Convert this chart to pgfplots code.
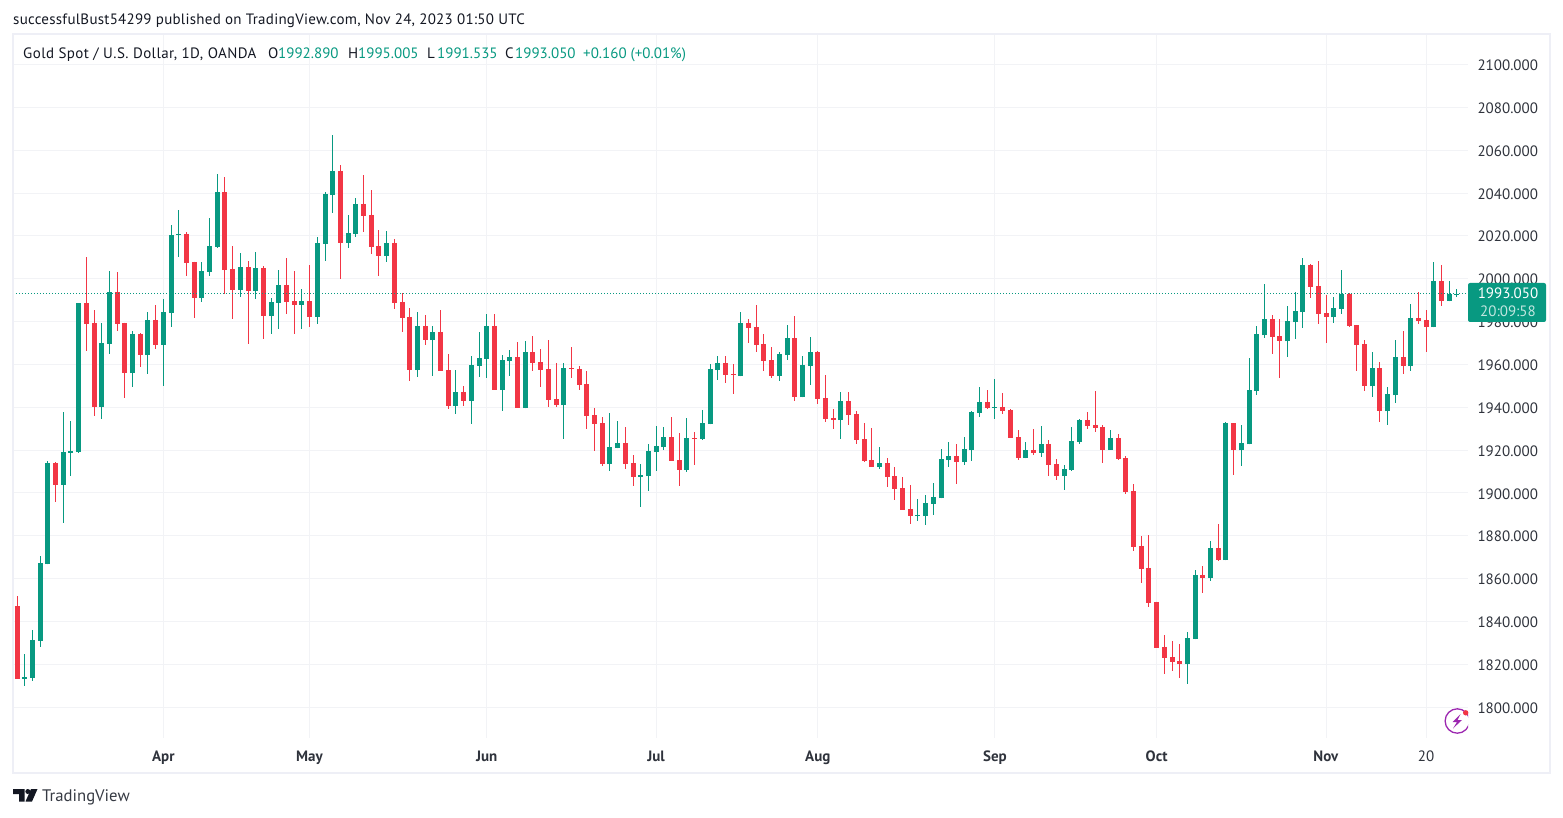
\documentclass[border=0pt]{standalone}
\usepackage{fontspec}
\setmainfont{PT Sans}
\usepackage{pgfplots}
\usepackage{pgfplotstable}
\pgfplotsset{compat=1.18}

\definecolor{up}{HTML}{089981}
\definecolor{down}{HTML}{F23645}
\definecolor{gridc}{HTML}{F2F3F6}
\definecolor{txt}{HTML}{131722}
\definecolor{frame}{HTML}{EEEFF6}
\definecolor{bolt}{HTML}{9C27B0}

% x = trading day index, o h l c = price
\pgfplotstableread{
x o h l c
1 1813.3 1824.8 1810.0 1814.1
2 1813.8 1836.0 1812.4 1831.4
3 1831.1 1870.6 1828.2 1867.3
4 1866.8 1914.9 1866.8 1914.0
6 1903.9 1937.8 1886.1 1919.1
7 1918.8 1933.6 1908.1 1919.6
8 1919.1 1988.7 1918.8 1988.7
11 1940.3 1979.4 1934.6 1970.0
12 1969.6 2003.7 1964.9 1993.9
15 1956.0 1975.6 1949.5 1974.2
17 1964.4 1984.5 1955.6 1980.8
19 1969.1 1990.6 1950.0 1984.5
20 1984.0 2025.1 1977.5 2020.5
21 2020.5 2032.1 2010.2 2020.9
24 1991.0 2007.9 1989.2 2003.7
25 2003.2 2028.4 2001.3 2015.3
26 2014.9 2048.9 2014.4 2040.5
29 1994.8 2012.1 1991.5 2005.5
31 1994.3 2012.5 1990.6 2005.1
33 1982.6 1991.0 1974.2 1989.2
34 1988.7 2004.1 1976.6 1997.1
37 1987.8 1995.3 1976.6 1989.6
39 1982.2 2019.5 1978.9 2016.7
40 2016.3 2040.5 2008.3 2039.6
41 2039.1 2067.2 2030.7 2050.4
43 2016.7 2029.8 2014.4 2021.4
44 2020.9 2037.7 2019.5 2034.9
48 2010.6 2022.3 2007.9 2016.7
52 1957.4 1984.5 1954.2 1978.0
54 1971.4 1978.0 1954.6 1975.2
57 1940.6 1957.4 1936.9 1947.2
59 1943.0 1964.0 1932.2 1959.8
60 1959.3 1975.2 1954.2 1963.0
61 1962.6 1983.6 1953.7 1978.0
63 1948.1 1964.4 1938.3 1962.1
64 1961.6 1966.7 1954.6 1963.4
66 1939.6 1970.9 1939.6 1965.8
71 1941.0 1960.6 1925.1 1958.3
77 1913.5 1937.3 1910.2 1921.4
78 1920.9 1933.5 1920.9 1923.3
81 1907.4 1913.5 1893.4 1908.3
82 1907.9 1922.8 1900.9 1919.5
83 1919.1 1931.2 1910.2 1921.9
84 1921.4 1930.7 1920.0 1926.1
87 1910.7 1934.9 1909.7 1925.6
89 1925.1 1938.7 1924.7 1932.6
90 1932.1 1960.2 1932.1 1957.8
91 1957.4 1963.9 1952.7 1960.6
94 1954.6 1984.4 1954.6 1979.3
99 1954.6 1965.8 1952.2 1964.8
100 1964.4 1978.4 1962.0 1972.3
102 1944.7 1963.9 1944.7 1959.7
103 1959.2 1972.8 1950.4 1965.8
107 1934.0 1947.1 1925.1 1942.9
112 1912.1 1921.4 1911.1 1913.9
117 1889.2 1897.1 1886.8 1889.7
118 1889.2 1899.0 1885.0 1895.3
119 1894.9 1904.6 1889.7 1898.1
120 1897.6 1920.5 1897.6 1915.8
121 1915.3 1923.7 1912.1 1917.2
123 1914.4 1926.1 1913.0 1920.5
124 1920.0 1938.2 1914.9 1937.7
125 1937.3 1949.4 1935.4 1942.4
127 1939.7 1953.2 1934.6 1940.2
131 1916.3 1923.8 1916.3 1920.1
133 1918.7 1931.3 1916.8 1922.9
136 1907.9 1913.1 1901.4 1911.2
137 1910.7 1930.8 1910.3 1924.3
138 1923.8 1934.6 1922.9 1934.1
142 1920.1 1929.4 1920.1 1925.7
152 1820.2 1835.1 1810.8 1832.3
153 1831.8 1864.0 1831.8 1861.7
155 1860.3 1877.6 1858.9 1874.3
157 1868.6 1933.0 1868.6 1932.5
159 1919.9 1931.6 1912.5 1923.2
160 1922.7 1962.9 1922.7 1947.9
161 1947.5 1977.8 1945.6 1974.1
162 1973.6 1997.4 1972.2 1981.1
165 1970.8 1987.2 1963.3 1980.2
166 1979.7 1993.7 1971.8 1984.8
167 1984.4 2009.6 1976.9 2006.3
171 1982.0 1991.4 1979.2 1986.2
172 1985.8 2004.0 1983.4 1992.8
176 1949.8 1965.7 1944.7 1958.2
178 1938.1 1949.3 1931.6 1946.1
179 1945.6 1971.3 1941.9 1963.3
181 1959.1 1988.1 1956.8 1981.6
184 1977.4 2007.7 1977.4 1998.8
186 1989.5 1998.8 1989.5 1992.8
187 1992.89 1995.005 1991.535 1993.05
}\upcandles

\pgfplotstableread{
x o h l c
0 1847.2 1851.9 1813.3 1813.3
5 1914.0 1914.5 1896.0 1903.9
9 1988.7 2010.2 1966.5 1978.9
10 1979.4 1985.4 1936.1 1940.3
13 1993.9 2003.2 1975.6 1978.9
14 1979.4 1979.4 1944.4 1956.0
16 1974.2 1974.7 1958.8 1964.4
18 1980.8 1987.8 1967.2 1969.1
22 2020.9 2021.9 2001.3 2007.4
23 2007.9 2007.9 1981.7 1991.0
27 2040.5 2047.5 1992.9 2004.1
28 2004.6 2015.3 1981.2 1994.8
30 2005.5 2008.3 1969.6 1994.3
32 2005.1 2006.0 1971.9 1982.6
35 1997.1 2009.7 1983.6 1989.2
36 1989.6 2003.7 1974.2 1987.8
38 1989.6 2006.5 1977.5 1982.2
42 2050.4 2053.2 1999.9 2016.7
45 2034.9 2048.5 2021.9 2029.3
46 2029.8 2041.5 2011.6 2014.9
47 2015.3 2022.8 2001.3 2010.6
49 2016.7 2018.6 1985.9 1988.7
50 1989.2 1993.4 1975.2 1981.7
51 1982.2 1986.4 1952.3 1957.4
53 1978.0 1983.1 1969.1 1971.4
55 1975.2 1985.4 1957.0 1957.0
56 1957.4 1964.9 1939.2 1940.6
58 1947.2 1950.0 1940.6 1943.0
62 1978.0 1983.6 1948.1 1948.1
65 1963.4 1970.4 1939.6 1939.6
67 1965.8 1973.2 1956.9 1960.6
68 1961.1 1967.2 1949.4 1957.4
69 1957.8 1971.4 1940.1 1943.3
70 1943.8 1960.6 1940.1 1941.0
72 1958.3 1968.1 1953.6 1957.8
73 1957.8 1959.2 1948.0 1950.4
74 1950.8 1956.9 1929.8 1935.9
75 1936.3 1939.6 1919.5 1932.1
76 1932.6 1935.4 1912.5 1913.5
79 1923.3 1930.7 1911.1 1913.5
80 1913.9 1917.7 1903.2 1907.4
85 1926.1 1935.4 1914.9 1914.9
86 1915.3 1927.9 1903.2 1910.7
88 1925.6 1928.4 1913.0 1925.1
92 1960.6 1963.9 1951.3 1955.0
93 1955.5 1960.2 1946.1 1955.0
95 1979.3 1981.2 1970.0 1977.0
96 1977.4 1987.7 1965.8 1969.0
97 1969.5 1974.2 1956.9 1961.6
98 1962.0 1968.1 1953.6 1954.6
101 1972.3 1982.6 1942.9 1944.7
104 1965.8 1966.2 1941.5 1943.8
105 1944.3 1955.0 1933.1 1934.5
106 1934.9 1939.1 1929.8 1934.0
108 1942.9 1947.1 1931.7 1936.3
109 1936.8 1938.2 1922.8 1924.7
110 1925.1 1932.6 1914.4 1914.9
111 1915.3 1930.3 1912.1 1912.1
113 1913.9 1916.3 1902.7 1907.4
114 1907.9 1912.1 1896.7 1901.8
115 1902.3 1907.4 1892.0 1892.0
116 1892.5 1903.7 1885.5 1889.2
122 1917.2 1922.8 1904.1 1914.4
126 1942.4 1948.0 1939.1 1939.6
128 1940.2 1946.7 1936.9 1938.3
129 1938.8 1939.2 1925.7 1925.7
130 1926.1 1929.4 1915.4 1916.3
132 1920.1 1929.9 1917.7 1918.7
134 1922.9 1924.7 1907.9 1913.1
135 1913.5 1915.9 1906.1 1907.9
139 1934.1 1937.8 1929.9 1931.3
140 1931.8 1947.6 1928.5 1930.3
141 1930.8 1931.8 1914.0 1920.1
143 1925.7 1927.5 1915.4 1915.9
144 1916.3 1917.3 1899.5 1900.5
145 1900.9 1904.2 1872.9 1874.8
146 1875.3 1879.9 1858.0 1864.5
147 1865.0 1880.4 1846.8 1848.6
148 1849.1 1849.1 1827.6 1827.6
149 1828.1 1833.7 1815.5 1823.0
150 1823.4 1830.9 1816.9 1821.1
151 1821.6 1829.5 1813.6 1820.2
154 1861.7 1865.9 1853.3 1860.3
156 1874.3 1885.5 1868.2 1868.7
158 1932.5 1932.5 1908.2 1919.9
163 1981.1 1983.0 1964.7 1972.7
164 1973.2 1981.1 1953.5 1970.8
168 2006.3 2006.8 1990.9 1996.0
169 1996.5 2008.2 1978.8 1983.4
170 1983.9 1992.3 1969.9 1982.0
173 1992.8 1993.2 1977.4 1977.8
174 1978.3 1978.3 1956.8 1968.9
175 1969.4 1971.3 1947.5 1949.8
177 1958.2 1961.0 1933.0 1938.1
180 1963.3 1975.5 1955.4 1959.1
182 1981.6 1993.7 1978.8 1980.2
183 1980.6 1985.3 1965.7 1977.4
185 1998.8 2006.3 1987.2 1989.5
}\downcandles

\pgfplotsset{
  nomark/.style={only marks, mark size=0pt, mark options={draw=none, fill=none}, forget plot},
  wick/.style={nomark,
    error bars/.cd, y dir=both, y explicit, error mark=none,
    error bar style={line width=1pt, color=#1}},
  body/.style 2 args={nomark,
    error bars/.cd, y dir=#2, y explicit, error mark=none,
    error bar style={line width=5pt, color=#1}},
}

\begin{document}
\begin{tikzpicture}
% page is 1563 x 817, one pt per pixel
\path[use as bounding box] (0,0) rectangle (1563pt,817pt);

\begin{axis}[
  at={(13pt,79pt)}, anchor=south west,
  scale only axis, width=1455pt, height=703pt,
  xmin=-0.52, xmax=188.44, ymin=1785.6, ymax=2113.8,
  axis line style={draw=none},
  major tick length=0pt,
  grid=major, grid style={gridc, line width=1pt},
  xtick={19,38,61,83,104,127,148,170,183},
  xticklabels={\textbf{Apr},\textbf{May},\textbf{Jun},\textbf{Jul},\textbf{Aug},\textbf{Sep},\textbf{Oct},\textbf{Nov},20},
  ytick={1800,1820,...,2100},
  yticklabel pos=right,
  scaled y ticks=false,
  tick label style={font=\fontsize{15}{17}\selectfont, text=txt!88},
  xticklabel style={yshift=-9pt},
  yticklabel style={anchor=west, xshift=6pt, yshift=-0.8pt,
    /pgf/number format/assume math mode=true,
    /pgf/number format/fixed, /pgf/number format/fixed zerofill,
    /pgf/number format/precision=3, /pgf/number format/1000 sep={}},
]
\addplot[wick=up] table[x=x, y=o, y error plus expr=\thisrow{h}-\thisrow{o}, y error minus expr=\thisrow{o}-\thisrow{l}] {\upcandles};
\addplot[wick=down] table[x=x, y=o, y error plus expr=\thisrow{h}-\thisrow{o}, y error minus expr=\thisrow{o}-\thisrow{l}] {\downcandles};
\addplot[body={up}{plus}] table[x=x, y=o, y error plus expr=\thisrow{c}-\thisrow{o}] {\upcandles};
\addplot[body={down}{minus}] table[x=x, y=o, y error minus expr=\thisrow{o}-\thisrow{c}] {\downcandles};
\addplot[up, line width=1pt, dash pattern=on 1pt off 2pt, forget plot] coordinates {(-0.52,1993.05) (188.44,1993.05)};
\end{axis}

\begin{scope}[x=1pt, y=-1pt, yshift=817pt, font=\fontsize{15}{17}\selectfont,
  hd/.style={anchor=base west, inner sep=0pt}]
  % chart frame
  \draw[frame, line width=2pt] (13,34) rectangle (1550,773);

  % header
  \node[hd, text=txt] at (13,24.5) {\addfontfeature{LetterSpace=1.7}successfulBust54299 published on TradingView.com, Nov 24, 2023 01:50 UTC};
  \node[hd, text=txt] at (23,59) {\addfontfeature{LetterSpace=2.8}Gold Spot / U.S. Dollar, 1D, OANDA};
  \node[hd, text=txt] at (268,59) {O};
  \node[hd, text=up] at (278,59) {1992.890};
  \node[hd, text=txt] at (348,59) {H};
  \node[hd, text=up] at (358,59) {1995.005};
  \node[hd, text=txt] at (427,59) {L};
  \node[hd, text=up] at (437,59) {1991.535};
  \node[hd, text=txt] at (505,59) {C};
  \node[hd, text=up] at (515,59) {1993.050};
  \node[hd, text=up] at (583,59) {+0.160 (+0.01\%)};

  % last price tag
  \fill[up, rounded corners=2pt] (1468,283) -- (1546,283) -- (1546,322) -- (1468,322) -- cycle;
  \node[anchor=base, inner sep=0pt, text=white] at (1508,299) {1993.050};
  \node[anchor=base, inner sep=0pt, text=white, text opacity=0.75] at (1508,317) {20:09:58};

  % badge
  \begin{scope}
    \clip (1440,705) rectangle (1468,738);
    \draw[bolt, line width=1.3pt] (1457.3,721) circle (12.2);
  \end{scope}
  \fill[down] (1465.7,712.8) circle (2.7);
  \fill[bolt] (1460.5,714) -- (1452.5,722) -- (1457,722) -- (1453,728.5) -- (1462,720) -- (1457.5,720) -- cycle;

  % logo
  \fill[txt] (13,789) -- (24.5,789) -- (24.5,801.5) -- (19,801.5) -- (19,794) -- (13,794) -- cycle;
  \fill[txt] (27.8,791.5) circle (2.5);
  \fill[txt] (31,789) -- (37.5,789) -- (32,801.5) -- (25.5,801.5) -- cycle;
  \node[hd, text=txt!85, font=\fontsize{16.7}{18}\selectfont] at (42,801.5) {TradingView};
\end{scope}
\end{tikzpicture}
\end{document}
